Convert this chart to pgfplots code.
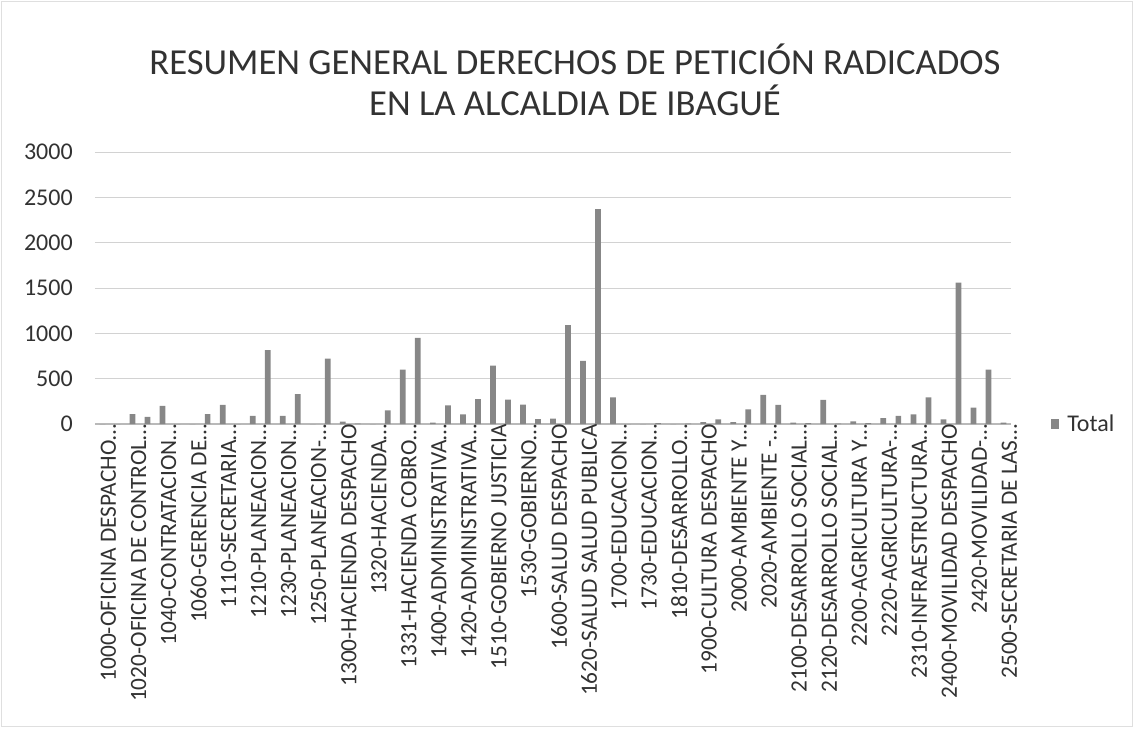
\documentclass[border=0pt]{standalone}
\usepackage{pgfplots}
\pgfplotsset{compat=1.18}
\usepackage{fontspec}
\setmainfont{Carlito}
\definecolor{barc}{RGB}{135,135,135}
\definecolor{txt}{RGB}{50,50,50}
\begin{document}
\begin{tikzpicture}
\useasboundingbox (-71.25pt,-228pt) rectangle (779.25pt,318pt);
\draw[gray!25] (-70pt,-227pt) rectangle (778pt,317pt);
\begin{axis}[
  at={(0,0)}, anchor=south west,
  scale only axis, width=687pt, height=204pt,
  xmin=-0.5, xmax=60.5, ymin=0, ymax=3000,
  ytick={0,500,...,3000},
  xtick={0,2,...,60},
  xticklabels={1000-OFICINA DESPACHO…,1020-OFICINA DE CONTROL…,1040-CONTRATACION…,1060-GERENCIA DE…,1110-SECRETARIA…,1210-PLANEACION…,1230-PLANEACION…,1250-PLANEACION-…,1300-HACIENDA DESPACHO,1320-HACIENDA…,1331-HACIENDA COBRO…,1400-ADMINISTRATIVA…,1420-ADMINISTRATIVA…,1510-GOBIERNO JUSTICIA,1530-GOBIERNO…,1600-SALUD DESPACHO,1620-SALUD SALUD PUBLICA,1700-EDUCACION…,1730-EDUCACION…,1810-DESARROLLO…,1900-CULTURA DESPACHO,2000-AMBIENTE Y…,2020-AMBIENTE -…,2100-DESARROLLO SOCIAL…,2120-DESARROLLO SOCIAL…,2200-AGRICULTURA Y…,2220-AGRICULTURA-…,2310-INFRAESTRUCTURA…,2400-MOVILIDAD DESPACHO,2420-MOVILIDAD-…,2500-SECRETARIA DE LAS…},
  xticklabel style={rotate=90, anchor=east, inner sep=0pt, yshift=-4.5pt, font=\fontsize{17.5}{19}\selectfont, text=txt},
  yticklabel style={anchor=east, inner sep=0pt, xshift=-16.5pt, font=\fontsize{18}{20}\selectfont, text=txt},
  /pgf/number format/assume math mode=true,
  /pgf/number format/1000 sep={},
  major tick length=0pt,
  ymajorgrids, grid style={gray!35, line width=0.6pt},
  axis x line*=bottom, axis y line*=left,
  y axis line style={draw=none},
  x axis line style={gray!55, line width=0.8pt, -},
  legend style={at={(1.0437,0)}, anchor=west, draw=none, fill=none, inner sep=0pt,
    font=\fontsize{18}{20}\selectfont, text=txt,
    /tikz/every odd column/.append style={column sep=4pt}},
  legend image code/.code={\fill[barc] (0pt,-3.5pt) rectangle (6pt,3.5pt);},
]
\addplot[ybar, bar width=4.3pt, fill=barc, draw=none] coordinates {
(0,0) (1,0) (2,110) (3,80) (4,200) (5,0) (6,0) (7,110) (8,210) (9,0)
(10,90) (11,815) (12,90) (13,330) (14,0) (15,720) (16,25) (17,5) (18,0) (19,150)
(20,600) (21,950) (22,15) (23,205) (24,105) (25,275) (26,645) (27,270) (28,215) (29,55)
(30,60) (31,1090) (32,695) (33,2370) (34,295) (35,0) (36,0) (37,10) (38,0) (39,5)
(40,20) (41,50) (42,20) (43,160) (44,320) (45,210) (46,15) (47,10) (48,265) (49,5)
(50,30) (51,10) (52,65) (53,90) (54,105) (55,295) (56,50) (57,1560) (58,180) (59,600)
(60,15)
};
\addlegendentry{Total}
\end{axis}
\node[align=center, text=txt, font=\fontsize{27.5}{30.75}\selectfont] at (360pt,258pt)
  {RESUMEN GENERAL DERECHOS DE PETICIÓN RADICADOS\\EN LA ALCALDIA DE IBAGUÉ};
\end{tikzpicture}
\end{document}
